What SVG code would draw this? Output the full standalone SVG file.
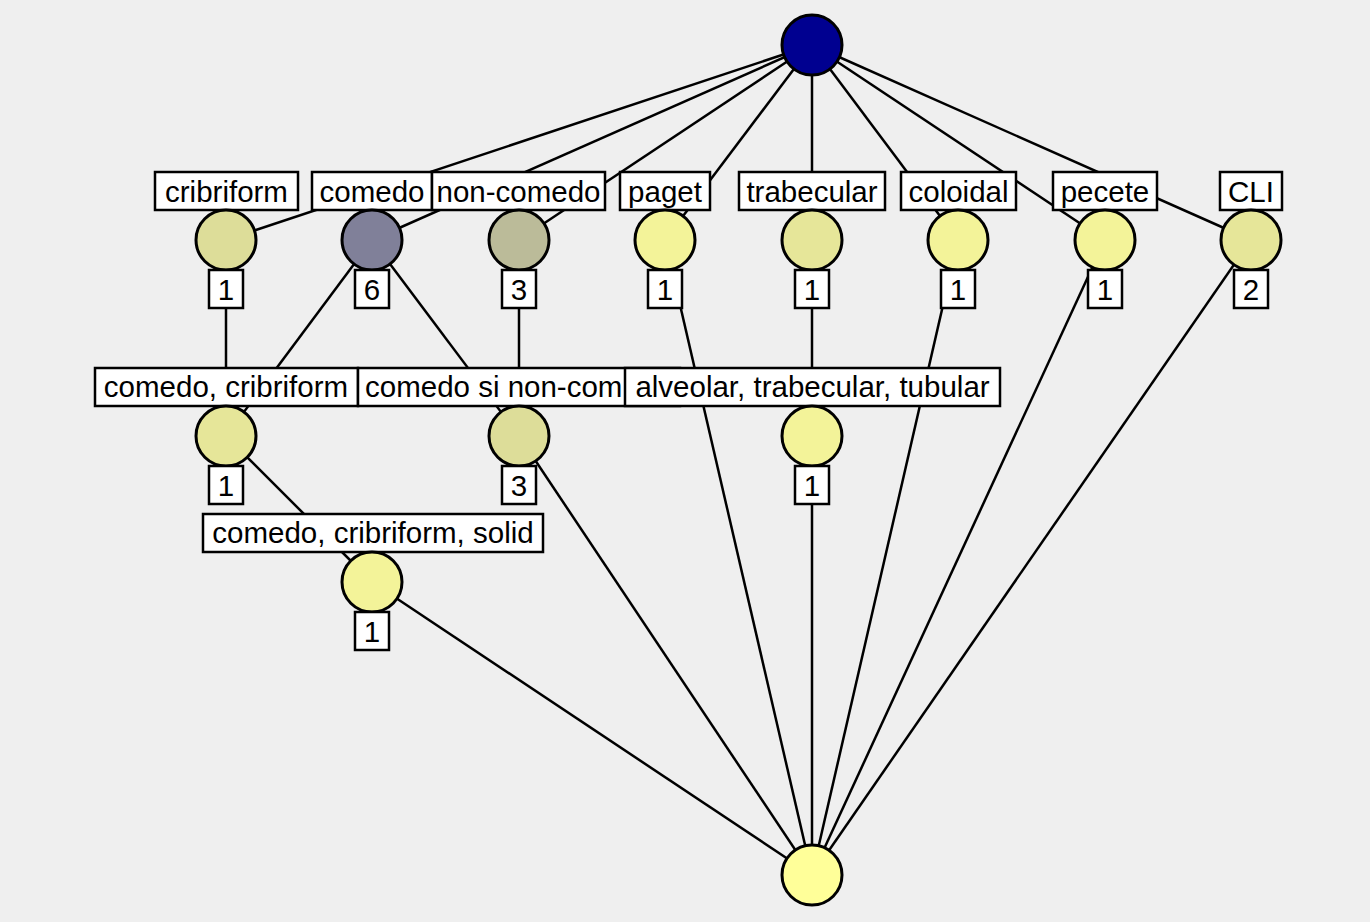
<svg xmlns="http://www.w3.org/2000/svg" width="1370" height="922" viewBox="0 0 1370 922">
<style>
.bg{fill:#efefef}
.e{stroke:#000;stroke-width:2.5;fill:none}
.n{stroke:#000;stroke-width:3}
.b{fill:#fff;stroke:#000;stroke-width:2.5}
.t{font-family:"Liberation Sans",Arial,sans-serif;font-size:29.5px;fill:#000;text-anchor:middle}
.s{text-anchor:start}
</style>
<rect class="bg" x="0" y="0" width="1370" height="922"/>
<g id="edges">
<line class="e" x1="812" y1="45" x2="226" y2="240"/>
<line class="e" x1="812" y1="45" x2="372" y2="240"/>
<line class="e" x1="812" y1="45" x2="519" y2="240"/>
<line class="e" x1="812" y1="45" x2="665" y2="240"/>
<line class="e" x1="812" y1="45" x2="812" y2="240"/>
<line class="e" x1="812" y1="45" x2="958" y2="240"/>
<line class="e" x1="812" y1="45" x2="1105" y2="240"/>
<line class="e" x1="812" y1="45" x2="1251" y2="240"/>
<line class="e" x1="226" y1="240" x2="226" y2="436"/>
<line class="e" x1="372" y1="240" x2="226" y2="436"/>
<line class="e" x1="372" y1="240" x2="519" y2="436"/>
<line class="e" x1="519" y1="240" x2="519" y2="436"/>
<line class="e" x1="812" y1="240" x2="812" y2="436"/>
<line class="e" x1="665" y1="240" x2="812" y2="875"/>
<line class="e" x1="958" y1="240" x2="812" y2="875"/>
<line class="e" x1="1105" y1="240" x2="812" y2="875"/>
<line class="e" x1="1251" y1="240" x2="812" y2="875"/>
<line class="e" x1="226" y1="436" x2="372" y2="582"/>
<line class="e" x1="519" y1="436" x2="812" y2="875"/>
<line class="e" x1="812" y1="436" x2="812" y2="875"/>
<line class="e" x1="372" y1="582" x2="812" y2="875"/>
</g>
<g id="top"><circle class="n" cx="812" cy="45" r="30" fill="#000090"/></g>
<g id="cribriform">
<rect class="b" x="155" y="172" width="143" height="38"/><text class="t" x="226.5" y="202">cribriform</text>
<circle class="n" cx="226" cy="240" r="30" fill="#dddd99"/>
<rect class="b" x="209" y="270" width="34" height="38"/><text class="t" x="226" y="300">1</text>
</g>
<g id="comedo">
<rect class="b" x="312" y="172" width="120" height="38"/><text class="t" x="372" y="202">comedo</text>
<circle class="n" cx="372" cy="240" r="30" fill="#808099"/>
<rect class="b" x="355" y="270" width="34" height="38"/><text class="t" x="372" y="300">6</text>
</g>
<g id="non-comedo">
<rect class="b" x="432" y="172" width="173" height="38"/><text class="t" x="518.5" y="202">non-comedo</text>
<circle class="n" cx="519" cy="240" r="30" fill="#bbbb99"/>
<rect class="b" x="502" y="270" width="34" height="38"/><text class="t" x="519" y="300">3</text>
</g>
<g id="paget">
<rect class="b" x="620" y="172" width="90" height="38"/><text class="t" x="665" y="202">paget</text>
<circle class="n" cx="665" cy="240" r="30" fill="#f3f399"/>
<rect class="b" x="648" y="270" width="34" height="38"/><text class="t" x="665" y="300">1</text>
</g>
<g id="trabecular">
<rect class="b" x="739" y="172" width="146" height="38"/><text class="t" x="812" y="202">trabecular</text>
<circle class="n" cx="812" cy="240" r="30" fill="#e6e699"/>
<rect class="b" x="795" y="270" width="34" height="38"/><text class="t" x="812" y="300">1</text>
</g>
<g id="coloidal">
<rect class="b" x="901" y="172" width="115" height="38"/><text class="t" x="958.5" y="202">coloidal</text>
<circle class="n" cx="958" cy="240" r="30" fill="#f3f399"/>
<rect class="b" x="941" y="270" width="34" height="38"/><text class="t" x="958" y="300">1</text>
</g>
<g id="pecete">
<rect class="b" x="1053" y="172" width="104" height="38"/><text class="t" x="1105" y="202">pecete</text>
<circle class="n" cx="1105" cy="240" r="30" fill="#f3f399"/>
<rect class="b" x="1088" y="270" width="34" height="38"/><text class="t" x="1105" y="300">1</text>
</g>
<g id="CLI">
<rect class="b" x="1220" y="172" width="62" height="38"/><text class="t" x="1251" y="202">CLI</text>
<circle class="n" cx="1251" cy="240" r="30" fill="#e6e699"/>
<rect class="b" x="1234" y="270" width="34" height="38"/><text class="t" x="1251" y="300">2</text>
</g>
<g id="comedo-cribriform">
<rect class="b" x="95" y="368" width="263" height="38"/><text class="t" x="226" y="397">comedo, cribriform</text>
<circle class="n" cx="226" cy="436" r="30" fill="#e6e699"/>
<rect class="b" x="209" y="466" width="34" height="38"/><text class="t" x="226" y="496">1</text>
</g>
<g id="comedo-si-non-comedo">
<rect class="b" x="358" y="368" width="322" height="38"/><text class="t s" x="365" y="397">comedo si non-com</text>
<circle class="n" cx="519" cy="436" r="30" fill="#dddd99"/>
<rect class="b" x="502" y="466" width="34" height="38"/><text class="t" x="519" y="496">3</text>
</g>
<g id="alveolar-trabecular-tubular">
<rect class="b" x="625" y="368" width="375" height="38"/><text class="t" x="812.5" y="397">alveolar, trabecular, tubular</text>
<circle class="n" cx="812" cy="436" r="30" fill="#f3f399"/>
<rect class="b" x="795" y="466" width="34" height="38"/><text class="t" x="812" y="496">1</text>
</g>
<g id="comedo-cribriform-solid">
<rect class="b" x="203" y="514" width="340" height="38"/><text class="t" x="373" y="543">comedo, cribriform, solid</text>
<circle class="n" cx="372" cy="582" r="30" fill="#f3f399"/>
<rect class="b" x="355" y="612" width="34" height="38"/><text class="t" x="372" y="642">1</text>
</g>
<g id="bottom"><circle class="n" cx="812" cy="875" r="30" fill="#ffff99"/></g>
</svg>
